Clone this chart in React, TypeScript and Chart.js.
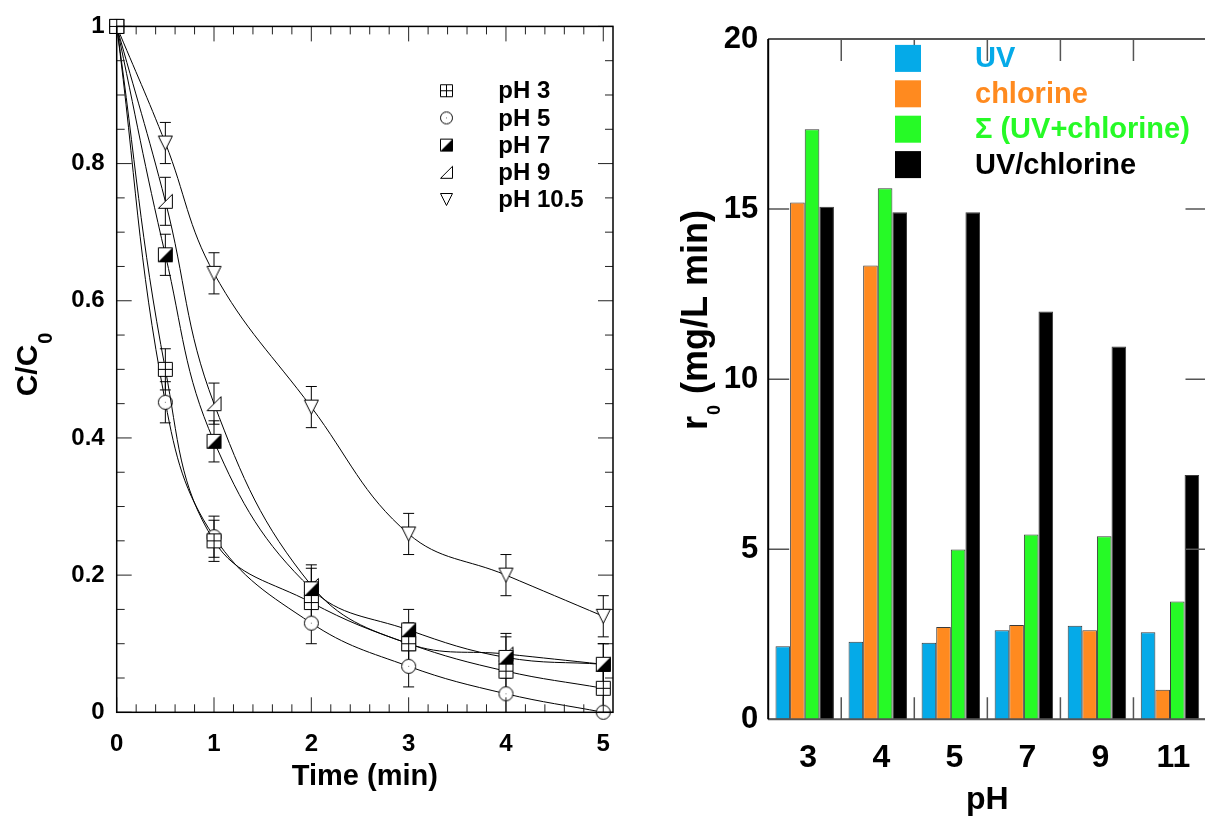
import React, { useEffect, useRef } from "react";
import { Chart, registerables } from "chart.js";
Chart.register(...registerables);

const FONT = "'Liberation Sans', Arial, Helvetica, sans-serif";

// ---------- Left chart data ----------
const TIME = [0, 0.5, 1, 2, 3, 4, 5];
const PH3 = [1, 0.5, 0.25, 0.16, 0.1, 0.06, 0.035];
const PH5 = [1, 0.452, 0.256, 0.13, 0.067, 0.027, 0.0];
const PH7 = [1, 0.667, 0.395, 0.18, 0.12, 0.08, 0.07];
const PH9 = [1, 0.745, 0.45, 0.185, 0.1, 0.085, 0.07];
const PH105 = [1, 0.83, 0.64, 0.445, 0.26, 0.2, 0.14];
const ERR3 = [0, 0.03, 0.03, 0.03, 0.03, 0.03, 0.03];
const ERR5 = [0, 0.03, 0.03, 0.03, 0.03, 0.03, 0.03];
const ERR7 = [0, 0.03, 0.03, 0.03, 0.03, 0.03, 0.03];
const ERR9 = [0, 0.035, 0.03, 0.03, 0.03, 0.03, 0.03];
const ERR105 = [0, 0.03, 0.03, 0.03, 0.03, 0.03, 0.03];
const SERIES_LABELS = ["pH 3", "pH 5", "pH 7", "pH 9", "pH 10.5"];
const X_TICKS = [0, 1, 2, 3, 4, 5];
const Y_TICKS = [0, 0.2, 0.4, 0.6, 0.8, 1];
const Y_TICK_LABELS = ["0", "0.2", "0.4", "0.6", "0.8", "1"];

// ---------- Right chart data ----------
const PH_CATEGORIES = ["3", "4", "5", "7", "9", "11"];
const UV = [2.15, 2.28, 2.25, 2.62, 2.75, 2.56];
const CHLORINE = [15.19, 13.34, 2.71, 2.77, 2.62, 0.87];
const SUM = [17.35, 15.61, 4.99, 5.43, 5.38, 3.46];
const UV_CHLORINE = [15.07, 14.91, 14.91, 11.99, 10.96, 7.18];
const BAR_LABELS = ["UV", "chlorine", "\u03A3 (UV+chlorine)", "UV/chlorine"];
const BAR_COLORS = ["#05AAE8", "#FF8A1F", "#26FA26", "#000000"];
const R_TICKS = [0, 5, 10, 15, 20];

type Kind = "crossSquare" | "circle" | "halfSquare" | "rightTri" | "downTri";
const KINDS: Kind[] = ["crossSquare", "circle", "halfSquare", "rightTri", "downTri"];

function makeMarker(kind: Kind, size: number): HTMLCanvasElement {
  const pad = 2;
  const c = document.createElement("canvas");
  c.width = size + pad * 2;
  c.height = size + pad * 2;
  const ctx = c.getContext("2d")!;
  ctx.lineWidth = 1;
  ctx.strokeStyle = "#000";
  ctx.fillStyle = "#fff";
  const o = pad + 0.5;
  const s = size - 1;
  const m = o + s / 2;
  ctx.beginPath();
  if (kind === "crossSquare") {
    ctx.rect(o, o, s, s);
    ctx.fill();
    ctx.stroke();
    ctx.beginPath();
    ctx.moveTo(m, o);
    ctx.lineTo(m, o + s);
    ctx.moveTo(o, m);
    ctx.lineTo(o + s, m);
    ctx.stroke();
  } else if (kind === "circle") {
    ctx.arc(m, m, s / 2, 0, Math.PI * 2);
    ctx.fill();
    ctx.stroke();
    ctx.fillStyle = "#777";
    ctx.fillRect(Math.floor(m), Math.floor(m), 1, 1);
  } else if (kind === "halfSquare") {
    ctx.rect(o, o, s, s);
    ctx.fill();
    ctx.beginPath();
    ctx.moveTo(o + s, o);
    ctx.lineTo(o + s, o + s);
    ctx.lineTo(o, o + s);
    ctx.closePath();
    ctx.fillStyle = "#000";
    ctx.fill();
    ctx.beginPath();
    ctx.rect(o, o, s, s);
    ctx.stroke();
  } else if (kind === "rightTri") {
    ctx.moveTo(o, o + s);
    ctx.lineTo(o + s, o + s);
    ctx.lineTo(o + s, o);
    ctx.closePath();
    ctx.fill();
    ctx.stroke();
  } else {
    ctx.moveTo(o, o);
    ctx.lineTo(o + s, o);
    ctx.lineTo(m, o + s);
    ctx.closePath();
    ctx.fill();
    ctx.stroke();
  }
  return c;
}

export default function App() {
  const leftRef = useRef<HTMLCanvasElement>(null);
  const rightRef = useRef<HTMLCanvasElement>(null);

  useEffect(() => {
    const markers = KINDS.map((k) => makeMarker(k, 15));
    const legendMarkers = KINDS.map((k) => makeMarker(k, 13));
    const values = [PH3, PH5, PH7, PH9, PH105];
    const errs = [ERR3, ERR5, ERR7, ERR9, ERR105];

    const leftPlugin = {
      id: "leftDecor",
      beforeDatasetsDraw(chart: any) {
        const { ctx, chartArea: a, scales } = chart;
        const x = scales.x, y = scales.y;
        ctx.save();
        ctx.beginPath();
        ctx.rect(a.left, a.top - 40, a.width, a.height + 40);
        ctx.clip();
        ctx.strokeStyle = "#000";
        ctx.lineWidth = 1;
        values.forEach((vals, si) => {
          vals.forEach((v, i) => {
            const e = errs[si][i];
            if (!e) return;
            const px = x.getPixelForValue(TIME[i]);
            const t = y.getPixelForValue(v + e);
            const b = y.getPixelForValue(v - e);
            ctx.beginPath();
            ctx.moveTo(px, t);
            ctx.lineTo(px, b);
            ctx.moveTo(px - 5.5, t);
            ctx.lineTo(px + 5.5, t);
            ctx.moveTo(px - 5.5, b);
            ctx.lineTo(px + 5.5, b);
            ctx.stroke();
          });
        });
        ctx.restore();
      },
      afterDraw(chart: any) {
        const { ctx, chartArea: a, scales } = chart;
        const x = scales.x, y = scales.y;
        ctx.save();
        ctx.strokeStyle = "#222";
        ctx.lineWidth = 1;
        // inward ticks on y (left & right)
        for (let k = 0; k <= 20; k++) {
          const py = y.getPixelForValue(k * 0.05);
          const len = k % 4 === 0 ? 15 : 8;
          ctx.beginPath();
          ctx.moveTo(a.left, py);
          ctx.lineTo(a.left + len, py);
          ctx.moveTo(a.right, py);
          ctx.lineTo(a.right - len, py);
          ctx.stroke();
        }
        // inward ticks on x (bottom & top)
        for (let k = 0; k <= 25; k++) {
          const px = x.getPixelForValue(k * 0.2);
          const len = k % 5 === 0 ? 15 : 8;
          ctx.beginPath();
          ctx.moveTo(px, a.bottom);
          ctx.lineTo(px, a.bottom - len);
          ctx.moveTo(px, a.top);
          ctx.lineTo(px, a.top + len);
          ctx.stroke();
        }
        ctx.lineWidth = 1.5;
        ctx.strokeStyle = "#000";
        ctx.strokeRect(a.left, a.top, a.width, a.height);

        // legend
        ctx.fillStyle = "#000";
        ctx.font = `bold 24px ${FONT}`;
        ctx.textBaseline = "middle";
        ctx.textAlign = "left";
        SERIES_LABELS.forEach((lab, i) => {
          const cy = a.top + 64.3 + 27.2 * i;
          const cx = a.left + 329.8;
          const m = legendMarkers[i];
          ctx.drawImage(m, cx - m.width / 2, cy - m.height / 2);
          ctx.fillText(lab, a.left + 381.6, cy + 1);
        });

        // y title C/C0
        ctx.translate(37, (a.top + a.bottom) / 2 + 27);
        ctx.rotate(-Math.PI / 2);
        ctx.textBaseline = "alphabetic";
        ctx.font = `bold 30px ${FONT}`;
        const w = ctx.measureText("C/C").width;
        ctx.fillText("C/C", 0, 0);
        ctx.font = `bold 20px ${FONT}`;
        ctx.fillText("0", w + 1, 15);
        ctx.restore();
      },
    };

    const left = new Chart(leftRef.current!, {
      type: "line",
      data: {
        datasets: values.map((vals, si) => ({
          label: SERIES_LABELS[si],
          data: vals.map((v, i) => ({ x: TIME[i], y: v })),
          borderColor: "#000",
          borderWidth: 1,
          backgroundColor: "#fff",
          pointStyle: markers[si] as any,
          pointRadius: 7,
          tension: 0.4,
          fill: false,
          clip: 20,
        })),
      },
      options: {
        responsive: false,
        animation: false,
        devicePixelRatio: 1,
        layout: { padding: { left: 0, top: 22.3, right: 27, bottom: 0 } },
        plugins: { legend: { display: false }, tooltip: { enabled: false } },
        scales: {
          x: {
            type: "linear",
            min: 0,
            max: 5.1,
            afterBuildTicks: (s: any) => {
              s.ticks = X_TICKS.map((v) => ({ value: v }));
            },
            afterFit: (s: any) => {
              s.height = 110.7;
            },
            grid: { display: false, drawTicks: false },
            border: { display: false },
            ticks: {
              color: "#000",
              padding: 17.5,
              font: { family: FONT, size: 24, weight: "bold" },
              callback: (v: any, i: number) => String(X_TICKS[i]),
            },
            title: {
              display: true,
              text: "Time (min)",
              color: "#000",
              font: { family: FONT, size: 29, weight: "bold" },
              padding: { top: 0, bottom: 29 },
            },
          },
          y: {
            type: "linear",
            min: 0,
            max: 1,
            afterBuildTicks: (s: any) => {
              s.ticks = Y_TICKS.map((v) => ({ value: v }));
            },
            afterFit: (s: any) => {
              s.width = 116.7;
            },
            grid: { display: false, drawTicks: false },
            border: { display: false },
            ticks: {
              color: "#000",
              padding: 12,
              font: { family: FONT, size: 24, weight: "bold" },
              callback: (v: any, i: number) => Y_TICK_LABELS[i],
            },
          },
        },
      },
      plugins: [leftPlugin],
    } as any);

    const rightPlugin = {
      id: "rightDecor",
      afterDraw(chart: any) {
        const { ctx, chartArea: a, scales } = chart;
        const x = scales.x, y = scales.y;
        ctx.save();
        ctx.strokeStyle = "#555";
        ctx.lineWidth = 1.5;
        R_TICKS.forEach((v) => {
          const py = y.getPixelForValue(v);
          ctx.beginPath();
          ctx.moveTo(a.left, py);
          ctx.lineTo(a.left + 21, py);
          ctx.moveTo(a.right, py);
          ctx.lineTo(a.right - 21, py);
          ctx.stroke();
        });
        for (let i = 0; i < PH_CATEGORIES.length - 1; i++) {
          const px = (x.getPixelForValue(i) + x.getPixelForValue(i + 1)) / 2;
          ctx.beginPath();
          ctx.moveTo(px, a.bottom);
          ctx.lineTo(px, a.bottom - 22);
          ctx.moveTo(px, a.top);
          ctx.lineTo(px, a.top + 22);
          ctx.stroke();
        }
        ctx.lineWidth = 2;
        ctx.beginPath();
        ctx.moveTo(a.left, a.top);
        ctx.lineTo(a.right, a.top);
        ctx.moveTo(a.left, a.bottom);
        ctx.lineTo(a.right, a.bottom);
        ctx.moveTo(a.right, a.top);
        ctx.lineTo(a.right, a.bottom);
        ctx.stroke();
        ctx.strokeStyle = "#000";
        ctx.beginPath();
        ctx.moveTo(a.left, a.top);
        ctx.lineTo(a.left, a.bottom);
        ctx.stroke();

        // legend
        ctx.font = `bold 29px ${FONT}`;
        ctx.textBaseline = "middle";
        ctx.textAlign = "left";
        BAR_LABELS.forEach((lab, i) => {
          const cy = a.top + 19.4 + 35.4 * i;
          ctx.fillStyle = BAR_COLORS[i];
          ctx.fillRect(a.left + 126.8, cy - 13.5, 26, 27);
          ctx.fillText(lab, a.left + 206.8, cy + 1);
        });

        // y title r0 (mg/L min)
        ctx.fillStyle = "#000";
        ctx.translate(67, a.top + 391);
        ctx.rotate(-Math.PI / 2);
        ctx.textBaseline = "alphabetic";
        ctx.font = `bold 36px ${FONT}`;
        const wr = ctx.measureText("r").width;
        ctx.fillText("r", 0, 0);
        ctx.font = `bold 18px ${FONT}`;
        const w0 = ctx.measureText("0").width;
        ctx.fillText("0", wr + 1, 13);
        ctx.font = `bold 36px ${FONT}`;
        ctx.fillText(" (mg/L min)", wr + w0 + 2, 0);
        ctx.restore();
      },
    };

    const right = new Chart(rightRef.current!, {
      type: "bar",
      data: {
        labels: PH_CATEGORIES,
        datasets: [UV, CHLORINE, SUM, UV_CHLORINE].map((vals, i) => ({
          label: BAR_LABELS[i],
          data: vals,
          backgroundColor: BAR_COLORS[i],
          borderColor: "#3a3a3a",
          borderWidth: 1,
          categoryPercentage: 0.8,
          barPercentage: 1.0,
        })),
      },
      options: {
        responsive: false,
        animation: false,
        devicePixelRatio: 1,
        layout: { padding: { left: 0, top: 39, right: 13.5, bottom: 0 } },
        plugins: { legend: { display: false }, tooltip: { enabled: false } },
        scales: {
          x: {
            type: "category",
            offset: true,
            afterFit: (s: any) => {
              s.height = 103.7;
            },
            grid: { display: false, drawTicks: false },
            border: { display: false },
            ticks: {
              color: "#000",
              padding: 19.8,
              labelOffset: 3.5,
              font: { family: FONT, size: 32, weight: "bold" },
            },
            title: {
              display: true,
              text: "pH",
              color: "#000",
              font: { family: FONT, size: 32, weight: "bold" },
              padding: { top: 0, bottom: 4 },
            },
          },
          y: {
            type: "linear",
            min: 0,
            max: 20,
            afterBuildTicks: (s: any) => {
              s.ticks = R_TICKS.map((v) => ({ value: v }));
            },
            afterFit: (s: any) => {
              s.width = 128.2;
            },
            grid: { display: false, drawTicks: false },
            border: { display: false },
            ticks: {
              color: "#000",
              padding: 10,
              font: { family: FONT, size: 31, weight: "bold" },
              callback: (v: any, i: number) => String(R_TICKS[i]),
            },
          },
        },
      },
      plugins: [rightPlugin],
    } as any);

    return () => {
      left.destroy();
      right.destroy();
    };
  }, []);

  return (
    <div
      style={{
        position: "fixed",
        left: 0,
        top: 0,
        width: 1205,
        height: 823,
        overflow: "hidden",
        background: "#fff",
      }}
    >
      <canvas
        ref={leftRef}
        width={640}
        height={823}
        style={{ position: "absolute", left: 0, top: 0 }}
      />
      <canvas
        ref={rightRef}
        width={580}
        height={823}
        style={{ position: "absolute", left: 640, top: 0 }}
      />
    </div>
  );
}
